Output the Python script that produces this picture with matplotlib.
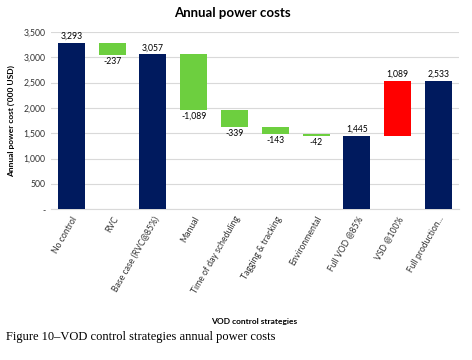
import numpy as np
import matplotlib.pyplot as plt

# waterfall data ('000 USD)
categories = ['No control', 'RVC', 'Base case (RVC@85%)', 'Manual', 'Time of day scheduling',
              'Tagging & tracking', 'Environmental', 'Full VOD @85%', 'VSD @100%', 'Full production...']
values = [3293, -237, 3057, -1089, -339, -143, -42, 1445, 1089, 2533]
is_total = [True, False, True, False, False, False, False, True, False, True]

navy = '#001a5e'
green = '#6dcf3f'
red = '#ff0000'

plt.rcParams['font.family'] = ['Lato', 'DejaVu Sans']

fig = plt.figure(figsize=(4.72, 3.6), dpi=100)
ax = fig.add_axes([0.108, 0.419, 0.864, 0.492])

x = np.arange(len(categories))
running = 0
for i, (v, tot) in enumerate(zip(values, is_total)):
    if tot:
        bottom, height, col = 0, v, navy
        running = v
        ax.text(i, v + 40, f'{v:,}', ha='center', va='bottom', fontsize=6.2)
    else:
        bottom = running if v > 0 else running + v
        height = abs(v)
        col = green if v < 0 else red
        if v < 0:
            ax.text(i, bottom - 40, f'{v:,}', ha='center', va='top', fontsize=6.2)
        else:
            ax.text(i, bottom + height + 40, f'{v:,}', ha='center', va='bottom', fontsize=6.2)
        running += v
    ax.bar(i, height, bottom=bottom, width=0.66, color=col, zorder=3)

ax.set_xlim(-0.5, len(categories) - 0.5)
ax.set_ylim(0, 3500)
yt = np.arange(0, 3501, 500)
ax.set_yticks(yt)
ax.set_yticklabels(['-'] + [f'{t:,}' for t in yt[1:]], fontsize=6.2, color='#333333')
ax.set_xticks(x)
ax.set_xticklabels(categories, rotation=60, ha='right', rotation_mode='anchor', fontsize=6.2,
                   color='#333333')
ax.tick_params(length=0, pad=4)
ax.grid(axis='y', color='#d9d9d9', linewidth=0.8, zorder=0)
for s in ['top', 'right', 'left']:
    ax.spines[s].set_visible(False)
ax.spines['bottom'].set_color('#d9d9d9')

fig.text(0.492, 0.963, 'Annual power costs', ha='center', va='center', fontsize=9.5, fontweight='bold')
ax.set_ylabel("Annual power cost ('000 USD)", fontsize=6, fontweight='bold', labelpad=6)
fig.text(0.538, 0.106, 'VOD control strategies', ha='center', va='center', fontsize=6, fontweight='bold')
fig.text(0.012, 0.063, 'Figure 10–VOD control strategies annual power costs', ha='left', va='center',
         fontsize=9, family=['Liberation Serif', 'DejaVu Serif'])

fig.savefig('out.png', dpi=100)
